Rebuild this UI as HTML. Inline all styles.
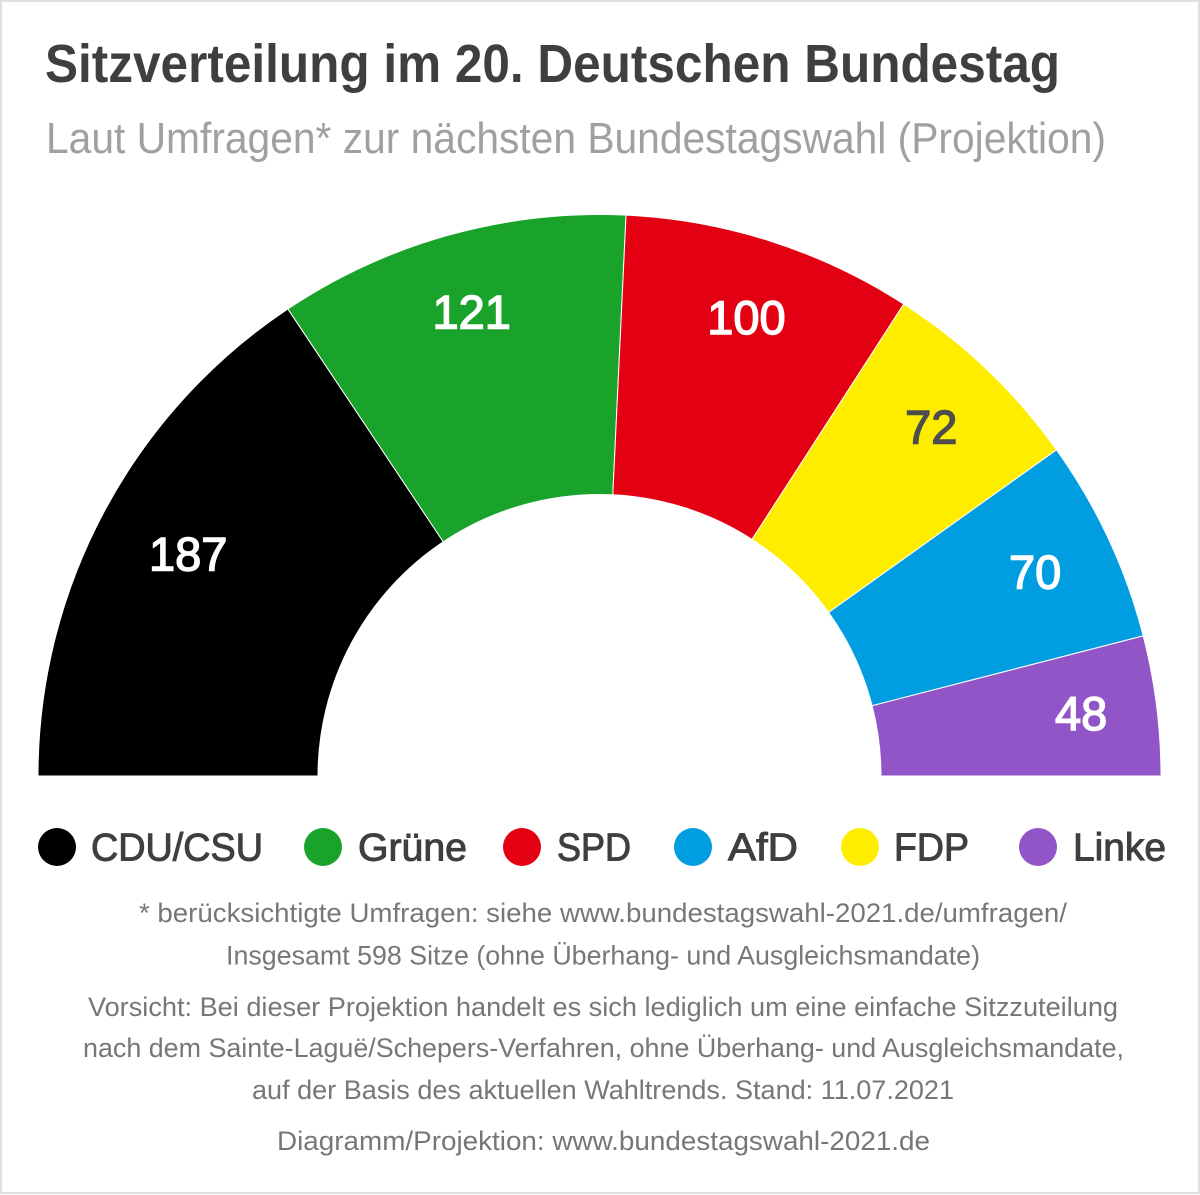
<!DOCTYPE html>
<html lang="de">
<head>
<meta charset="utf-8">
<title>Sitzverteilung im 20. Deutschen Bundestag</title>
<style>
html,body{margin:0;padding:0;background:#fff}
svg{display:block;font-family:"Liberation Sans",sans-serif}
.title{font-size:54px;font-weight:700;fill:#3f3f3f}
.subtitle{font-size:44px;fill:#a0a0a0}
.legend-text{font-size:39px;fill:#3f3f3f;stroke:#3f3f3f;stroke-width:1px}
.note{font-size:27px;fill:#777}
.seat-label{font-size:47px;stroke-width:1.4px}
</style>
</head>
<body>
<svg id="chart" xmlns="http://www.w3.org/2000/svg" width="1200" height="1195" viewBox="0 0 1200 1195">
  <rect x="1" y="1" width="1198" height="1192" fill="#fff" stroke="#e0e0e0" stroke-width="2"/>
  <text class="title" x="45" y="82" textLength="1015" lengthAdjust="spacingAndGlyphs">Sitzverteilung im 20. Deutschen Bundestag</text>
  <text class="subtitle" x="46" y="153" textLength="1060" lengthAdjust="spacingAndGlyphs">Laut Umfragen* zur nächsten Bundestagswahl (Projektion)</text>

  <g id="segments"></g>
  <g id="labels"></g>

  <g>
    <g>
      <circle cx="57" cy="847" r="19" fill="#000000"/>
      <text class="legend-text" x="91" y="860.5" textLength="172" lengthAdjust="spacingAndGlyphs">CDU/CSU</text>
    </g>
    <g>
      <circle cx="323" cy="847" r="19" fill="#1aa32a"/>
      <text class="legend-text" x="358" y="860.5" textLength="109" lengthAdjust="spacingAndGlyphs">Grüne</text>
    </g>
    <g>
      <circle cx="522" cy="847" r="19" fill="#e30013"/>
      <text class="legend-text" x="557" y="860.5" textLength="74" lengthAdjust="spacingAndGlyphs">SPD</text>
    </g>
    <g>
      <circle cx="693" cy="847" r="19" fill="#009ee0"/>
      <text class="legend-text" x="728" y="860.5" textLength="70" lengthAdjust="spacingAndGlyphs">AfD</text>
    </g>
    <g>
      <circle cx="860" cy="847" r="19" fill="#ffed00"/>
      <text class="legend-text" x="894" y="860.5" textLength="75" lengthAdjust="spacingAndGlyphs">FDP</text>
    </g>
    <g>
      <circle cx="1038" cy="847" r="19" fill="#9155c7"/>
      <text class="legend-text" x="1073" y="860.5" textLength="93" lengthAdjust="spacingAndGlyphs">Linke</text>
    </g>
  </g>

  <g>
    <text class="note" x="139" y="922" textLength="928" lengthAdjust="spacingAndGlyphs">* berücksichtigte Umfragen: siehe www.bundestagswahl-2021.de/umfragen/</text>
    <text class="note" x="226" y="964.5" textLength="754" lengthAdjust="spacingAndGlyphs">Insgesamt 598 Sitze (ohne Überhang- und Ausgleichsmandate)</text>
    <text class="note" x="88" y="1016" textLength="1030" lengthAdjust="spacingAndGlyphs">Vorsicht: Bei dieser Projektion handelt es sich lediglich um eine einfache Sitzzuteilung</text>
    <text class="note" x="83" y="1057" textLength="1041" lengthAdjust="spacingAndGlyphs">nach dem Sainte-Laguë/Schepers-Verfahren, ohne Überhang- und Ausgleichsmandate,</text>
    <text class="note" x="252" y="1099" textLength="702" lengthAdjust="spacingAndGlyphs">auf der Basis des aktuellen Wahltrends. Stand: 11.07.2021</text>
    <text class="note" x="277" y="1150" textLength="653" lengthAdjust="spacingAndGlyphs">Diagramm/Projektion: www.bundestagswahl-2021.de</text>
  </g>
</svg>
<script>
const parties = ["CDU/CSU", "Grüne", "SPD", "FDP", "AfD", "Linke"];
const seats = [187, 121, 100, 72, 70, 48];
const partyColors = ["#000000", "#1aa32a", "#e30013", "#ffed00", "#009ee0", "#9155c7"];
const labelColors = ["#ffffff", "#ffffff", "#ffffff", "#4d4d4d", "#ffffff", "#ffffff"];

const SVG_NS = "http://www.w3.org/2000/svg";
const centerX = 599.5;
const centerY = 776;
const outerRadius = 561.5;
const innerRadius = 281.5;
const totalSeats = seats.reduce(function (a, b) { return a + b; }, 0);

function angleScale(seatCount) {
  return Math.PI * seatCount / totalSeats;
}
function polarX(seatCount, radius) {
  return centerX - radius * Math.cos(angleScale(seatCount));
}
function polarY(seatCount, radius) {
  return centerY - radius * Math.sin(angleScale(seatCount));
}
function labelRadius(index) {
  if (index === 0) return 467;
  if (index === seats.length - 1) return 485;
  return 480;
}

const segmentGroup = document.getElementById("segments");
const labelGroup = document.getElementById("labels");
let cumulative = 0;
seats.forEach(function (value, i) {
  const start = cumulative;
  const end = cumulative + value;
  const mid = start + value / 2;
  const slug = parties[i].toLowerCase().replace("/", "-").replace("ü", "ue");
  const f = function (n) { return n.toFixed(2); };

  const path = document.createElementNS(SVG_NS, "path");
  path.setAttribute("d",
    "M" + f(polarX(start, outerRadius)) + " " + f(polarY(start, outerRadius)) +
    "A" + outerRadius + " " + outerRadius + " 0 0 1 " + f(polarX(end, outerRadius)) + " " + f(polarY(end, outerRadius)) +
    "L" + f(polarX(end, innerRadius)) + " " + f(polarY(end, innerRadius)) +
    "A" + innerRadius + " " + innerRadius + " 0 0 0 " + f(polarX(start, innerRadius)) + " " + f(polarY(start, innerRadius)) + "Z");
  path.setAttribute("fill", partyColors[i]);
  path.setAttribute("stroke", "#ffffff");
  path.setAttribute("stroke-width", "1");
  
  
  segmentGroup.appendChild(path);

  const label = document.createElementNS(SVG_NS, "text");
  label.setAttribute("class", "seat-label");
  label.setAttribute("x", f(polarX(mid, labelRadius(i)) + 0.5));
  label.setAttribute("y", f(polarY(mid, labelRadius(i)) + 15));
  label.setAttribute("text-anchor", "middle");
  label.setAttribute("fill", labelColors[i]);
  label.setAttribute("stroke", labelColors[i]);
  
  
  label.textContent = String(value);
  labelGroup.appendChild(label);

  cumulative = end;
});
</script>
</body>
</html>
